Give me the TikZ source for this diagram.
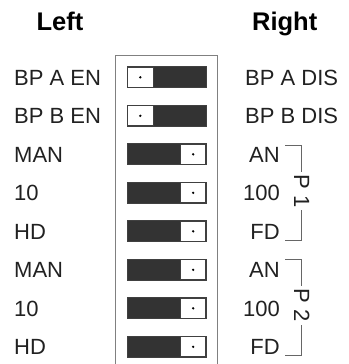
\documentclass[tikz,border=0pt]{standalone}
\usepackage{fontspec}
\setmainfont{Liberation Sans}
\usetikzlibrary{calc}
\begin{document}
\begin{tikzpicture}[x=1pt,y=-1pt,
  lbl/.style={inner sep=0pt,text=black!87,font=\fontsize{22}{26}\selectfont},
  ttl/.style={inner sep=0pt,text=black,font=\fontsize{25.5}{30}\selectfont\bfseries},
  swbox/.style={draw=black!75,line width=0.9pt,fill=white,minimum width=78pt,minimum height=20pt,inner sep=0pt},
  dark/.style={fill=black!80},
  swline/.style={draw=black!75,line width=0.9pt},
  brk/.style={draw=black!60,line width=0.9pt},
  plbl/.style={lbl,rotate=-90,fill=white,inner sep=2.5pt}]
\useasboundingbox (0,0) rectangle (348,364);
% titles
\node[ttl,anchor=base] (tl) at (60,30.7) {Left};
\node[ttl,anchor=base] (tr) at (284.7,30.7) {Right};
% outer frame (open at bottom)
\coordinate (fbl) at (115.5,364.5);
\coordinate (ftl) at (115.5,55.5);
\coordinate (ftr) at (217.7,55.5);
\coordinate (fbr) at (217.7,364.5);
\draw[black!50,line width=1pt] (fbl) -- (ftl) -- (ftr) -- (fbr);
% switches
\foreach \i in {1,...,8}{
  \pgfmathsetmacro{\yc}{77.3+38.5*(\i-1)}
  \node[swbox] (s\i) at (166.7,\yc) {};
  \ifnum\i<3
    \fill[dark] ($(s\i.north west)+(26,0)$) rectangle (s\i.south east);
    \draw[swline] (s\i.north west) rectangle (s\i.south east);
    \draw[swline] ($(s\i.north west)+(26,0)$) -- ($(s\i.south west)+(26,0)$);
    \fill ($(s\i.west)+(13,0)$) circle (1.3);
  \else
    \fill[dark] (s\i.north west) rectangle ($(s\i.south east)+(-26,0)$);
    \draw[swline] (s\i.north west) rectangle (s\i.south east);
    \draw[swline] ($(s\i.north east)+(-26,0)$) -- ($(s\i.south east)+(-26,0)$);
    \fill ($(s\i.east)+(-13,0)$) circle (1.3);
  \fi
}
% left labels
\foreach \i/\t in {1/BP A EN,2/BP B EN,3/MAN,4/10,5/HD,6/MAN,7/10,8/HD}{
  \pgfmathsetmacro{\yb}{77.3+38.5*(\i-1)+8}
  \node[lbl,anchor=base west] (l\i) at (14,\yb) {\t};
}
% right labels
\node[lbl,anchor=base west] (r1) at (245,85.3) {BP A DIS};
\node[lbl,anchor=base west] (r2) at (245,123.8) {BP B DIS};
\foreach \i/\t in {3/AN,4/100,5/FD,6/AN,7/100,8/FD}{
  \pgfmathsetmacro{\yb}{77.3+38.5*(\i-1)+8}
  \node[lbl,anchor=base east] (r\i) at (280,\yb) {\t};
}
% brackets
\node[plbl] (p1) at (301.7,190.8) {P 1};
\node[plbl] (p2) at (301.7,305.5) {P 2};
\coordinate (a1) at (285,145);
\coordinate (b1) at (285,240);
\coordinate (a2) at (285,259.3);
\coordinate (b2) at (285,355);
\draw[brk] (a1) -| (p1.west);
\draw[brk] (b1) -| (p1.east);
\draw[brk] (a2) -| (p2.west);
\draw[brk] (b2) -| (p2.east);
\end{tikzpicture}
\end{document}
